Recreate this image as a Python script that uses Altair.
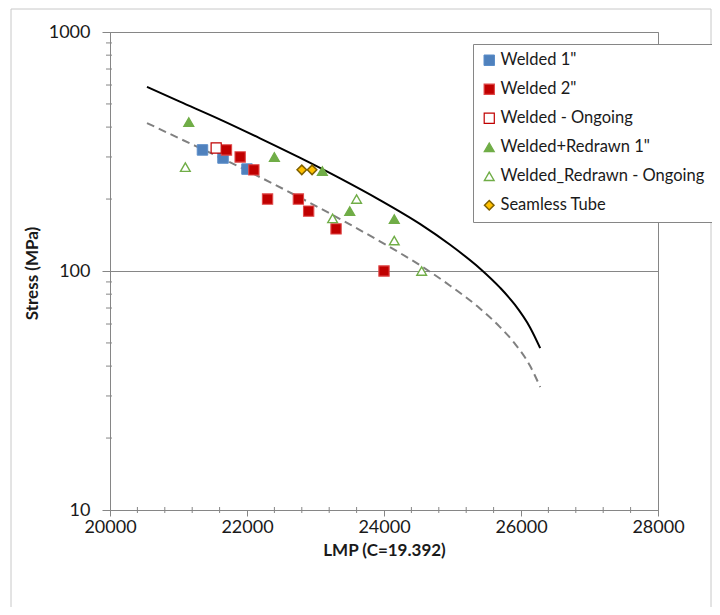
import altair as alt
import pandas as pd

# ---------------- data ----------------
series_names = ['Welded 1"', 'Welded 2"', 'Welded - Ongoing',
                'Welded+Redrawn 1"', 'Welded_Redrawn - Ongoing', 'Seamless Tube']

welded1_lmp = [21350, 21650, 22000]
welded1_stress = [321, 297, 267]
welded2_lmp = [21700, 21900, 22100, 22300, 22750, 22900, 23300, 24000]
welded2_stress = [321, 300, 265, 200, 200, 178, 150, 100]
welded_ongoing_lmp = [21550]
welded_ongoing_stress = [327]
redrawn1_lmp = [21150, 22400, 23100, 23500, 24150]
redrawn1_stress = [420, 300, 262, 178, 165]
redrawn_ongoing_lmp = [21100, 23250, 23600, 24150, 24550]
redrawn_ongoing_stress = [272, 166, 200, 134, 100]
seamless_lmp = [22800, 22950]
seamless_stress = [265, 265]

curve_lmp = [20540, 21020, 21610, 22190, 22770, 23360, 23940, 24530,
             24960, 25400, 25690, 25910, 26130, 26280]
upper_stress = [589, 511, 430, 359, 298, 244, 198, 157, 129, 102.5, 85.4, 72.3, 58.2, 47.6]
lower_stress = [416, 358, 298, 247, 203, 165, 133, 105.5, 87, 69.7, 58.4, 49.7, 40.2, 32.7]

x_ticks = [20000, 22000, 24000, 26000, 28000]
x_minor = [v for v in range(20400, 28000, 400) if v % 2000 != 0]
y_ticks = [10, 100, 1000]
y_minor = [20, 30, 40, 50, 60, 70, 80, 90, 200, 300, 400, 500, 600, 700, 800, 900]

# ---------------- styles ----------------
shapes = ["square", "square", "square", "triangle-up", "triangle-up", "diamond"]
fills = ["#4F81BD", "#C00000", "#FFFFFF", "#70AD47", "#FFFFFF", "#FFC000"]
strokes = ["#5B8DC9", "#E04848", "#C00000", "#70AD47", "#70AD47", "#7F6000"]
sizes = [110, 90, 95, 190, 165, 65]
widths = [1, 1.5, 2, 1, 2, 1]

rows = []
for name, xs, ys in [
    (series_names[0], welded1_lmp, welded1_stress),
    (series_names[1], welded2_lmp, welded2_stress),
    (series_names[2], welded_ongoing_lmp, welded_ongoing_stress),
    (series_names[3], redrawn1_lmp, redrawn1_stress),
    (series_names[4], redrawn_ongoing_lmp, redrawn_ongoing_stress),
    (series_names[5], seamless_lmp, seamless_stress),
]:
    for a, b in zip(xs, ys):
        rows.append({"series": name, "lmp": a, "stress": b})
points_df = pd.DataFrame(rows)

W, H = 548, 478
GRAY = "#868686"
FONT = "Lato"

x_enc = alt.X("lmp:Q",
              scale=alt.Scale(domain=[20000, 28000], nice=False, zero=False),
              axis=alt.Axis(values=x_ticks, format="d", grid=False, tickSize=6,
                            labelPadding=2, labelFlush=False,
                            title="LMP (C=19.392)", titleFontWeight="bold",
                            titleY=40, titleBaseline="middle"))
y_enc = alt.Y("stress:Q",
              scale=alt.Scale(type="log", domain=[10, 1000], nice=False),
              axis=alt.Axis(values=y_ticks, format="d", grid=True, tickSize=8,
                            labelPadding=12, labelFlush=False,
                            title="Stress (MPa)", titleFontWeight="bold",
                            titleX=-78, titleY=H / 2 + 2, titleAngle=270,
                            titleAlign="center", titleBaseline="middle"))

border = alt.Chart(pd.DataFrame({"k": [0]})).mark_rect(
    fillOpacity=0, stroke="#C8C8C8", strokeWidth=1
).encode(x=alt.value(-99), x2=alt.value(601), y=alt.value(-23), y2=alt.value(640))

curves_df = pd.DataFrame({"lmp": curve_lmp, "upper": upper_stress, "lower": lower_stress})

upper = alt.Chart(curves_df).transform_calculate(stress="datum.upper").mark_line(
    color="black", strokeWidth=2, interpolate="monotone"
).encode(x=x_enc, y=y_enc)

lower = alt.Chart(curves_df).transform_calculate(stress="datum.lower").mark_line(
    color="#808080", strokeWidth=2, strokeDash=[8, 5], interpolate="monotone"
).encode(x=x_enc, y=y_enc)

points = alt.Chart(points_df).mark_point(filled=True, opacity=1).encode(
    x=x_enc, y=y_enc,
    shape=alt.Shape("series:N", sort=series_names, title=None,
                    scale=alt.Scale(domain=series_names, range=shapes)),
    fill=alt.Fill("series:N", sort=series_names, title=None,
                  scale=alt.Scale(domain=series_names, range=fills)),
    stroke=alt.Stroke("series:N", sort=series_names, title=None,
                      scale=alt.Scale(domain=series_names, range=strokes)),
    size=alt.Size("series:N", sort=series_names, title=None,
                  scale=alt.Scale(domain=series_names, range=sizes)),
    strokeWidth=alt.StrokeWidth("series:N", sort=series_names, title=None,
                                scale=alt.Scale(domain=series_names, range=widths)),
)

y_minor_ticks = alt.Chart(pd.DataFrame({"stress": y_minor})).mark_rule(
    color=GRAY, strokeWidth=1
).encode(y=y_enc, x=alt.value(-4), x2=alt.value(2))

x_minor_ticks = alt.Chart(pd.DataFrame({"lmp": x_minor})).mark_rule(
    color=GRAY, strokeWidth=1
).encode(x=x_enc, y=alt.value(H - 3), y2=alt.value(H + 3))

chart = alt.layer(border, lower, upper, points, y_minor_ticks, x_minor_ticks).properties(
    width=W, height=H,
    padding={"left": 102, "top": 24, "right": 54, "bottom": 97},
    autosize=alt.AutoSizeParams(type="none"),
    background="white",
).configure_view(
    stroke=GRAY, strokeWidth=1
).configure_axis(
    labelFont=FONT, titleFont=FONT, labelFontSize=18, titleFontSize=17,
    labelColor="#1A1A1A", titleColor="#1A1A1A",
    domainColor=GRAY, tickColor=GRAY, gridColor=GRAY,
    domainWidth=1, tickWidth=1, gridWidth=1,
).configure_legend(
    orient="none", legendX=363, legendY=12,
    strokeColor=GRAY, fillColor="white", padding=8,
    labelFont=FONT, labelFontSize=16.5, labelColor="#1A1A1A", labelLimit=400,
    rowPadding=12, labelOffset=3, symbolOffset=0,
)

chart.save("out.html", embed_options={"renderer": "svg", "actions": False})
